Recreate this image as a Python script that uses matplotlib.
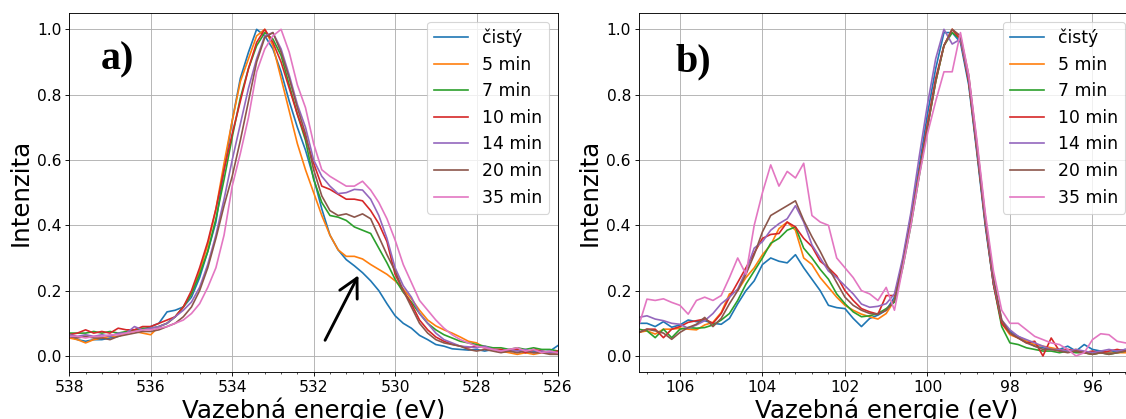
import matplotlib

matplotlib.use("Agg")
import matplotlib.pyplot as plt
import numpy as np
from matplotlib.ticker import AutoMinorLocator, MultipleLocator

plt.rcParams.update({"font.size": 14, "axes.labelsize": 22, "legend.fontsize": 15.5})

LABELS = ["čistý", "5 min", "7 min", "10 min", "14 min", "20 min", "35 min"]

# O 1s region, 538 -> 526 eV, step 0.2 eV
O_ENERGY = np.linspace(538.0, 526.0, 61)
O_CISTY = [0.060, 0.050, 0.045, 0.050, 0.050, 0.055, 0.060, 0.070, 0.080, 0.080,
           0.090, 0.100, 0.135, 0.140, 0.150, 0.180, 0.240, 0.320, 0.410, 0.570,
           0.720, 0.850, 0.930, 1.000, 0.980, 0.940, 0.870, 0.780, 0.700, 0.630,
           0.545, 0.450, 0.370, 0.325, 0.295, 0.276, 0.255, 0.230, 0.200, 0.160,
           0.123, 0.100, 0.085, 0.063, 0.050, 0.035, 0.030, 0.022, 0.020, 0.018,
           0.020, 0.015, 0.020, 0.015, 0.012, 0.018, 0.010, 0.015, 0.012, 0.015,
           0.032]
O_5 = [0.055, 0.050, 0.040, 0.050, 0.055, 0.060, 0.060, 0.070, 0.075, 0.070,
       0.065, 0.090, 0.100, 0.120, 0.150, 0.190, 0.260, 0.340, 0.450, 0.590,
       0.720, 0.840, 0.910, 0.980, 1.000, 0.950, 0.850, 0.750, 0.650, 0.570,
       0.500, 0.430, 0.370, 0.325, 0.305, 0.305, 0.297, 0.280, 0.265, 0.250,
       0.230, 0.205, 0.175, 0.140, 0.110, 0.092, 0.080, 0.070, 0.058, 0.045,
       0.040, 0.025, 0.020, 0.015, 0.010, 0.005, 0.010, 0.005, 0.010, 0.008,
       0.005]
O_7 = [0.070, 0.070, 0.070, 0.075, 0.070, 0.075, 0.070, 0.075, 0.080, 0.085,
       0.085, 0.090, 0.100, 0.120, 0.150, 0.190, 0.250, 0.320, 0.420, 0.540,
       0.670, 0.790, 0.880, 0.950, 0.990, 0.970, 0.920, 0.830, 0.740, 0.660,
       0.540, 0.470, 0.430, 0.425, 0.415, 0.395, 0.385, 0.375, 0.330, 0.285,
       0.235, 0.195, 0.165, 0.130, 0.100, 0.080, 0.065, 0.055, 0.045, 0.040,
       0.035, 0.030, 0.025, 0.025, 0.020, 0.025, 0.020, 0.025, 0.020, 0.020,
       0.015]
O_10 = [0.065, 0.070, 0.080, 0.070, 0.075, 0.070, 0.085, 0.080, 0.080, 0.090,
        0.090, 0.100, 0.110, 0.120, 0.150, 0.200, 0.270, 0.350, 0.450, 0.570,
        0.680, 0.780, 0.880, 0.960, 1.000, 0.960, 0.900, 0.820, 0.740, 0.670,
        0.590, 0.520, 0.510, 0.495, 0.480, 0.480, 0.475, 0.445, 0.405, 0.350,
        0.250, 0.200, 0.160, 0.110, 0.080, 0.058, 0.045, 0.036, 0.030, 0.025,
        0.030, 0.025, 0.020, 0.020, 0.015, 0.020, 0.010, 0.020, 0.015, 0.010,
        0.015]
O_14 = [0.065, 0.060, 0.065, 0.060, 0.065, 0.060, 0.070, 0.070, 0.090, 0.080,
        0.085, 0.090, 0.100, 0.120, 0.140, 0.165, 0.210, 0.280, 0.370, 0.480,
        0.600, 0.710, 0.820, 0.910, 0.980, 0.990, 0.940, 0.860, 0.770, 0.700,
        0.600, 0.550, 0.520, 0.497, 0.500, 0.510, 0.508, 0.480, 0.430, 0.360,
        0.270, 0.215, 0.180, 0.130, 0.100, 0.070, 0.050, 0.040, 0.030, 0.028,
        0.025, 0.030, 0.020, 0.015, 0.020, 0.015, 0.020, 0.010, 0.015, 0.010,
        0.010]
O_20 = [0.060, 0.055, 0.060, 0.055, 0.055, 0.050, 0.060, 0.065, 0.070, 0.075,
        0.075, 0.080, 0.090, 0.100, 0.120, 0.150, 0.200, 0.270, 0.360, 0.460,
        0.550, 0.660, 0.780, 0.900, 0.975, 0.990, 0.930, 0.850, 0.760, 0.680,
        0.570, 0.490, 0.445, 0.430, 0.435, 0.425, 0.435, 0.420, 0.365, 0.310,
        0.260, 0.200, 0.150, 0.100, 0.070, 0.050, 0.040, 0.035, 0.030, 0.020,
        0.015, 0.020, 0.015, 0.010, 0.015, 0.010, 0.015, 0.010, 0.010, 0.005,
        0.005]
O_35 = [0.060, 0.060, 0.055, 0.060, 0.060, 0.065, 0.065, 0.070, 0.075, 0.080,
        0.080, 0.085, 0.090, 0.100, 0.110, 0.130, 0.160, 0.210, 0.270, 0.370,
        0.520, 0.620, 0.730, 0.870, 0.940, 0.980, 1.000, 0.930, 0.830, 0.760,
        0.650, 0.570, 0.550, 0.535, 0.520, 0.520, 0.535, 0.508, 0.470, 0.420,
        0.355, 0.280, 0.225, 0.170, 0.140, 0.110, 0.085, 0.065, 0.050, 0.040,
        0.030, 0.025, 0.020, 0.015, 0.020, 0.025, 0.015, 0.020, 0.010, 0.015,
        0.010]

# Si 2p region, 107 -> 95 eV, step 0.2 eV
SI_ENERGY = np.linspace(107.0, 95.0, 61)
SI_CISTY = [0.100, 0.100, 0.090, 0.105, 0.088, 0.095, 0.110, 0.105, 0.108, 0.100,
            0.097, 0.115, 0.160, 0.200, 0.230, 0.280, 0.300, 0.290, 0.285, 0.310,
            0.270, 0.235, 0.200, 0.155, 0.148, 0.145, 0.115, 0.090, 0.115, 0.125,
            0.140, 0.180, 0.290, 0.430, 0.580, 0.740, 0.880, 0.990, 0.990, 0.960,
            0.830, 0.620, 0.400, 0.220, 0.100, 0.075, 0.060, 0.045, 0.030, 0.025,
            0.020, 0.020, 0.030, 0.015, 0.035, 0.020, 0.015, 0.010, 0.015, 0.020,
            0.020]
SI_5 = [0.072, 0.077, 0.067, 0.082, 0.082, 0.085, 0.082, 0.080, 0.095, 0.103,
        0.133, 0.190, 0.200, 0.240, 0.270, 0.310, 0.340, 0.390, 0.410, 0.385,
        0.300, 0.280, 0.240, 0.210, 0.180, 0.155, 0.140, 0.128, 0.120, 0.113,
        0.130, 0.170, 0.280, 0.410, 0.560, 0.700, 0.840, 0.950, 1.000, 0.970,
        0.850, 0.640, 0.420, 0.230, 0.100, 0.065, 0.055, 0.045, 0.035, 0.030,
        0.025, 0.020, 0.015, 0.020, 0.010, 0.005, 0.010, 0.008, 0.010, 0.010,
        0.015]
SI_7 = [0.082, 0.077, 0.056, 0.082, 0.056, 0.082, 0.087, 0.085, 0.087, 0.095,
        0.110, 0.130, 0.170, 0.220, 0.260, 0.300, 0.345, 0.360, 0.385, 0.395,
        0.330, 0.300, 0.265, 0.235, 0.190, 0.160, 0.135, 0.120, 0.123, 0.130,
        0.145, 0.165, 0.270, 0.400, 0.550, 0.700, 0.840, 0.950, 0.990, 0.970,
        0.840, 0.630, 0.410, 0.220, 0.090, 0.040, 0.035, 0.025, 0.020, 0.015,
        0.015, 0.010, 0.015, 0.010, 0.010, 0.005, 0.010, 0.005, 0.010, 0.015,
        0.020]
SI_10 = [0.072, 0.082, 0.082, 0.056, 0.082, 0.090, 0.103, 0.108, 0.113, 0.100,
         0.130, 0.180, 0.225, 0.270, 0.315, 0.360, 0.372, 0.375, 0.410, 0.395,
         0.360, 0.335, 0.290, 0.270, 0.245, 0.200, 0.170, 0.145, 0.135, 0.128,
         0.185, 0.185, 0.280, 0.410, 0.560, 0.710, 0.850, 0.950, 1.000, 0.970,
         0.840, 0.630, 0.410, 0.220, 0.100, 0.070, 0.055, 0.040, 0.045, 0.000,
         0.055, 0.015, 0.020, 0.015, 0.010, 0.015, 0.010, 0.015, 0.020, 0.015,
         0.020]
SI_14 = [0.118, 0.123, 0.113, 0.108, 0.100, 0.097, 0.085, 0.095, 0.108, 0.130,
         0.160, 0.180, 0.205, 0.260, 0.330, 0.350, 0.385, 0.405, 0.420, 0.460,
         0.410, 0.340, 0.300, 0.260, 0.240, 0.215, 0.190, 0.159, 0.149, 0.152,
         0.160, 0.190, 0.300, 0.440, 0.610, 0.770, 0.910, 1.000, 0.955, 0.970,
         0.850, 0.640, 0.420, 0.230, 0.110, 0.080, 0.060, 0.050, 0.040, 0.030,
         0.020, 0.020, 0.015, 0.020, 0.015, 0.010, 0.015, 0.020, 0.015, 0.020,
         0.025]
SI_20 = [0.072, 0.082, 0.077, 0.070, 0.051, 0.072, 0.087, 0.097, 0.118, 0.090,
         0.115, 0.160, 0.200, 0.250, 0.310, 0.380, 0.430, 0.445, 0.460, 0.475,
         0.415, 0.365, 0.320, 0.270, 0.225, 0.180, 0.155, 0.140, 0.130, 0.128,
         0.140, 0.170, 0.280, 0.410, 0.560, 0.700, 0.840, 0.950, 1.000, 0.980,
         0.860, 0.650, 0.430, 0.240, 0.110, 0.070, 0.055, 0.040, 0.030, 0.020,
         0.020, 0.015, 0.010, 0.015, 0.010, 0.005, 0.010, 0.005, 0.010, 0.015,
         0.020]
SI_35 = [0.092, 0.174, 0.170, 0.175, 0.164, 0.155, 0.128, 0.170, 0.180, 0.170,
         0.185, 0.240, 0.300, 0.250, 0.400, 0.500, 0.585, 0.520, 0.565, 0.545,
         0.590, 0.430, 0.410, 0.400, 0.300, 0.270, 0.240, 0.200, 0.190, 0.170,
         0.210, 0.140, 0.270, 0.400, 0.550, 0.680, 0.780, 0.870, 0.870, 0.990,
         0.860, 0.660, 0.440, 0.260, 0.140, 0.100, 0.100, 0.080, 0.060, 0.050,
         0.040, 0.035, 0.020, 0.000, 0.010, 0.050, 0.068, 0.065, 0.045, 0.040,
         0.040]

O_SERIES = [O_CISTY, O_5, O_7, O_10, O_14, O_20, O_35]
SI_SERIES = [SI_CISTY, SI_5, SI_7, SI_10, SI_14, SI_20, SI_35]

W, H, DPI = 1126, 419, 80
fig = plt.figure(figsize=(W / DPI, H / DPI), dpi=DPI)
ax_a = fig.add_axes([69.3 / W, 46.7 / H, 488.7 / W, 359.3 / H])
# right panel runs a few pixels past the picture edge, as in the source image
ax_b = fig.add_axes([638.7 / W, 46.7 / H, 495.0 / W, 359.3 / H])


def draw_panel(ax, energy, series, xlim, letter, letter_xy):
    for values, label in zip(series, LABELS):
        ax.plot(energy, values, label=label)
    ax.set_xlim(*xlim)
    ax.set_ylim(-0.05, 1.05)
    ax.xaxis.set_major_locator(MultipleLocator(2))
    ax.xaxis.set_minor_locator(AutoMinorLocator(5))
    ax.grid(True)
    ax.set_xlabel("Vazebná energie (eV)", labelpad=2)
    ax.set_ylabel("Intenzita")
    ax.legend(loc="upper right")
    ax.text(letter_xy[0], letter_xy[1], letter, transform=ax.transAxes,
            fontsize=36, fontweight="bold", family="Liberation Serif")


draw_panel(ax_a, O_ENERGY, O_SERIES, (538, 526), "a)", (0.064, 0.843))
draw_panel(ax_b, SI_ENERGY, SI_SERIES, (107, 95), "b)", (0.074, 0.837))

ax_a.annotate("", xy=(530.9, 0.247), xytext=(531.72, 0.048),
              arrowprops=dict(arrowstyle="->,head_length=0.84,head_width=0.44",
                              lw=2.6, color="black", shrinkA=0, shrinkB=0,
                              mutation_scale=20))

fig.savefig("out.png", dpi=DPI)
